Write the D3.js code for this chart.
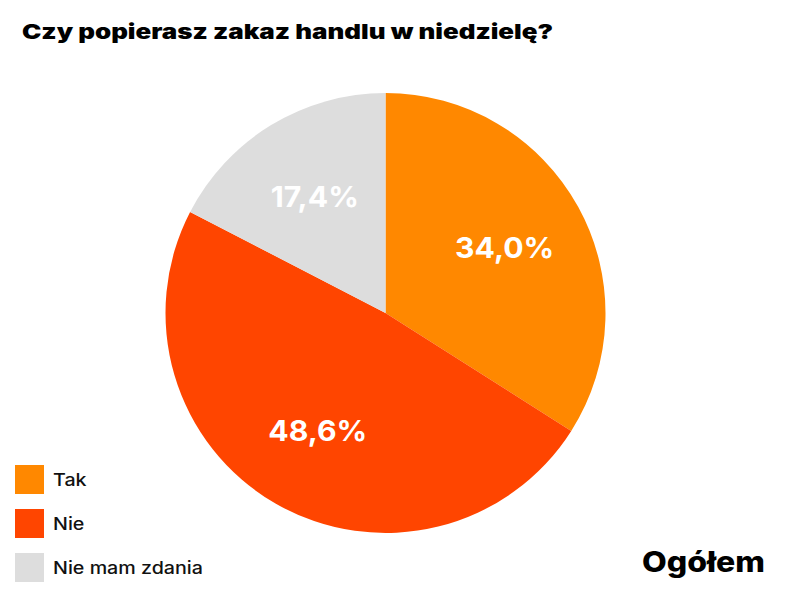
<!DOCTYPE html>
<html>
<head>
<meta charset="utf-8">
<script src="https://cdn.jsdelivr.net/npm/d3@7"></script>
<style>
  html, body { margin: 0; padding: 0; background: #fff; }
  svg { display: block; }
</style>
</head>
<body>
<svg id="chart" width="800" height="600"></svg>
<script>
const title = "Czy popierasz zakaz handlu w niedzielę?";
const subtitle = "Ogółem";
const categories = ["Tak", "Nie", "Nie mam zdania"];
const values = [34.0, 48.6, 17.4];
const colors = ["#FF8800", "#FF4500", "#DDDDDD"];

const W = 800, H = 600;
const cx = 385.5, cy = 313, R = 220, labelR = 136;
const fontStack = "Inter, 'Open Sans', 'DejaVu Sans', sans-serif";

const svg = d3.select("#chart");

const data = categories.map((c, i) => ({ name: c, value: values[i], color: colors[i] }));

const pie = d3.pie().value(d => d.value).sort(null).startAngle(0).endAngle(2 * Math.PI);
const arc = d3.arc().innerRadius(0).outerRadius(R);
const labelArc = d3.arc().innerRadius(labelR).outerRadius(labelR);

const g = svg.append("g").attr("transform", `translate(${cx},${cy})`);
const arcs = pie(data);

g.selectAll("path.slice").data(arcs).join("path")
  .attr("class", "slice")
  .attr("d", arc)
  .attr("fill", d => d.data.color);

const fmt = v => d3.format(".1f")(v).replace(".", ",") + "%";

// horizontal stretch to mimic the wide geometric typeface
const lbl = g.selectAll("text.lbl").data(arcs).join("text")
  .attr("class", "lbl")
  .attr("transform", d => `translate(${labelArc.centroid(d)}) scale(1.06,1)`)
  .attr("text-anchor", "middle")
  .attr("dy", "0.36em")
  .attr("fill", "#fff")
  .attr("font-family", fontStack)
  .attr("font-weight", 700)
  .attr("font-size", 28.5)
  .text(d => fmt(d.data.value));

// Title
svg.append("text")
  .attr("x", 22).attr("y", 39)
  .attr("font-family", fontStack)
  .attr("font-weight", 900)
  .attr("font-size", 20.5)
  .attr("fill", "#000")
  .attr("textLength", 531)
  .attr("lengthAdjust", "spacingAndGlyphs")
  .text(title);

// Subtitle bottom right
svg.append("text")
  .attr("x", 642).attr("y", 572)
  .attr("font-family", fontStack)
  .attr("font-weight", 800)
  .attr("font-size", 28)
  .attr("fill", "#000")
  .attr("textLength", 123)
  .attr("lengthAdjust", "spacingAndGlyphs")
  .text(subtitle);

// Legend
const legend = svg.append("g").attr("transform", "translate(15,465)");
const li = legend.selectAll("g.item").data(data).join("g")
  .attr("class", "item")
  .attr("transform", (d, i) => `translate(0,${i * 44})`);
li.append("rect").attr("width", 29).attr("height", 29).attr("fill", d => d.color);
const lt = li.append("text")
  .attr("x", 38).attr("y", 20.5)
  .attr("font-family", fontStack)
  .attr("font-weight", 500)
  .attr("font-size", 17)
  .attr("fill", "#111")
  .text(d => d.name);
// stretch legend text so the longest entry matches the reference width
const longest = d3.max(lt.nodes(), n => n.getComputedTextLength());
const k = 150 / longest;
lt.each(function() {
  const w = this.getComputedTextLength();
  d3.select(this).attr("textLength", w * k).attr("lengthAdjust", "spacingAndGlyphs");
});
</script>
</body>
</html>
